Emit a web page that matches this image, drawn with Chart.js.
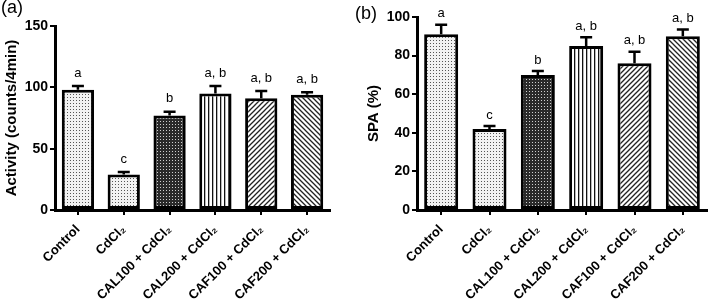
<!DOCTYPE html>
<html>
<head>
<meta charset="utf-8">
<script src="https://cdn.jsdelivr.net/npm/chart.js@4/dist/chart.umd.min.js"></script>
<style>
  body { margin: 0; background: #fff; }
  #wrap { position: relative; width: 708px; height: 304px; overflow: hidden; }
  canvas { position: absolute; top: 0; }
  .lab { position: absolute; font: 18px "Liberation Sans", Arial, sans-serif; color: #000; }
</style>
</head>
<body>
<div id="wrap">
  <canvas id="chartA" width="354" height="304" style="left:0"></canvas>
  <canvas id="chartB" width="354" height="304" style="left:354px"></canvas>
  <div class="lab" style="left:1px;top:-3px">(a)</div>
  <div class="lab" style="left:355px;top:3px">(b)</div>
</div>
<script>
// data
const categories = ['Control', 'CdCl₂', 'CAL100 + CdCl₂', 'CAL200 + CdCl₂', 'CAF100 + CdCl₂', 'CAF200 + CdCl₂'];
const activityMean = [98, 29, 77, 95, 91, 94];
const activitySem = [3, 2, 3, 6, 6, 2];
const spaMean = [91, 42, 70, 85, 76, 90];
const spaSem = [5, 1.5, 2, 4.5, 6, 3.5];
const letters = ['a', 'c', 'b', 'a, b', 'a, b', 'a, b'];
const activityTicks = [0, 50, 100, 150];
const spaTicks = [0, 20, 40, 60, 80, 100];

const FONT = '"Liberation Sans", Arial, sans-serif';

// fill patterns for the bars
function makePattern(kind) {
    const c = document.createElement('canvas');
    const g = c.getContext('2d');
    if (kind === 'dots') {
        c.width = 3; c.height = 3;
        g.fillStyle = '#f2f2f2'; g.fillRect(0, 0, 3, 3);
        g.fillStyle = '#555'; g.fillRect(1, 1, 1, 1);
    } else if (kind === 'checker') {
        c.width = 3; c.height = 3;
        g.fillStyle = '#2a2a2a'; g.fillRect(0, 0, 3, 3);
        g.fillStyle = '#cfcfcf'; g.fillRect(1, 1, 1, 1);
    } else if (kind === 'vert') {
        c.width = 4; c.height = 4;
        g.fillStyle = '#fff'; g.fillRect(0, 0, 4, 4);
        g.fillStyle = '#111'; g.fillRect(0, 0, 1.3, 4);
    } else {
        const s = 5;
        c.width = s; c.height = s;
        g.fillStyle = '#fff'; g.fillRect(0, 0, s, s);
        g.strokeStyle = '#222'; g.lineWidth = 1.3;
        g.beginPath();
        if (kind === 'diagUp') {
            g.moveTo(-1, s + 1); g.lineTo(s + 1, -1);
            g.moveTo(-1, 1); g.lineTo(1, -1);
            g.moveTo(s - 1, s + 1); g.lineTo(s + 1, s - 1);
        } else {
            g.moveTo(-1, -1); g.lineTo(s + 1, s + 1);
            g.moveTo(s - 1, -1); g.lineTo(s + 1, 1);
            g.moveTo(-1, s - 1); g.lineTo(1, s + 1);
        }
        g.stroke();
    }
    return g.createPattern(c, 'repeat');
}

const fills = ['dots', 'dots', 'checker', 'vert', 'diagUp', 'diagDown'].map(makePattern);

// error bars (upper only) + significance letters
const annot = {
    id: 'annot',
    afterDatasetsDraw(chart, args, opts) {
        const ctx = chart.ctx;
        const y = chart.scales.y;
        const vals = chart.data.datasets[0].data;
        chart.getDatasetMeta(0).data.forEach((bar, i) => {
            const top = y.getPixelForValue(vals[i] + opts.err[i]);
            ctx.save();
            ctx.strokeStyle = '#000';
            ctx.lineWidth = 2.5;
            ctx.beginPath();
            ctx.moveTo(bar.x, bar.y);
            ctx.lineTo(bar.x, top);
            ctx.moveTo(bar.x - 6, top);
            ctx.lineTo(bar.x + 6, top);
            ctx.stroke();
            ctx.fillStyle = '#000';
            ctx.font = '13px ' + FONT;
            ctx.textAlign = 'center';
            ctx.textBaseline = 'middle';
            ctx.fillText(opts.letters[i], bar.x, top - opts.gap);
            ctx.restore();
        });
    }
};

function makeChart(id, values, sems, ticks, yTitle, geom) {
    return new Chart(document.getElementById(id), {
        type: 'bar',
        data: {
            labels: categories,
            datasets: [{
                data: values,
                backgroundColor: fills,
                borderColor: '#000',
                borderWidth: 3,
                borderSkipped: false,
                barPercentage: 0.88,
                categoryPercentage: 0.8
            }]
        },
        plugins: [annot],
        options: {
            responsive: false,
            animation: false,
            devicePixelRatio: 1,
            layout: { padding: { left: geom.left, top: geom.top, right: geom.right, bottom: 0 } },
            plugins: {
                legend: { display: false },
                tooltip: { enabled: false },
                annot: { err: sems, letters: letters, gap: geom.gap }
            },
            scales: {
                x: {
                    afterFit: s => { s.height = 94; },
                    grid: { offset: false, drawOnChartArea: false, tickLength: 5, color: '#000', lineWidth: 2 },
                    border: { color: '#000', width: 3 },
                    ticks: {
                        color: '#000',
                        font: { family: FONT, size: 13, weight: 'bold' },
                        minRotation: 45,
                        maxRotation: 45,
                        padding: 7
                    }
                },
                y: {
                    min: ticks[0],
                    max: ticks[ticks.length - 1],
                    afterBuildTicks: s => { s.ticks = ticks.map(v => ({ value: v })); },
                    afterFit: s => { s.width = geom.yw; },
                    grid: { drawOnChartArea: false, tickLength: 5, color: '#000', lineWidth: 2 },
                    border: { color: '#000', width: 3 },
                    ticks: {
                        color: '#000',
                        font: { family: FONT, size: 14, weight: 'bold' },
                        padding: 2
                    },
                    title: {
                        display: true,
                        text: yTitle,
                        color: '#000',
                        font: { family: FONT, size: 15, weight: 'bold' },
                        padding: { top: 3, bottom: 0 }
                    }
                }
            }
        }
    });
}

makeChart('chartA', activityMean, activitySem, activityTicks, 'Activity (counts/4min)',
    { left: 0, top: 26, right: 24, yw: 55, gap: 13 });
makeChart('chartB', spaMean, spaSem, spaTicks, 'SPA (%)',
    { left: 8, top: 17, right: 1, yw: 55, gap: 11 });
</script>
</body>
</html>
